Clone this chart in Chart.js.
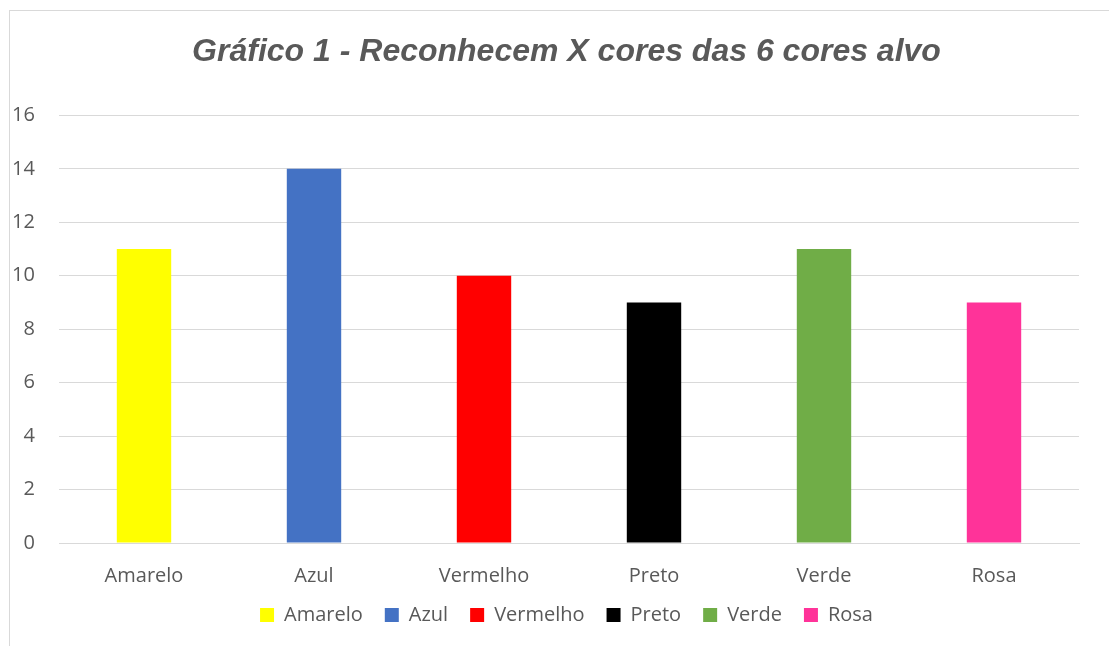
<!DOCTYPE html>
<html>
<head>
<meta charset="utf-8">
<script src="https://cdn.jsdelivr.net/npm/chart.js@4.4.1/dist/chart.umd.min.js"></script>
<style>
  html, body { margin: 0; padding: 0; background: #fff; overflow: hidden; }
  #frame { position: absolute; left: 9px; top: 10px; width: 1200px; height: 700px; border: 1px solid #d9d9d9; }
  #wrap { position: absolute; left: 0; top: 0; width: 1109px; height: 646px; }
</style>
</head>
<body>
<div id="frame"></div>
<div id="wrap"><canvas id="coresChart"></canvas></div>
<script>
// categories and values
const categorias = ['Amarelo', 'Azul', 'Vermelho', 'Preto', 'Verde', 'Rosa'];
const reconhecem = [11, 14, 10, 9, 11, 9];
const coresBarras = ['#ffff00', '#4472c4', '#ff0000', '#000000', '#70ad47', '#ff3399'];
const tituloGrafico = 'Gráfico 1 - Reconhecem X cores das 6 cores alvo';

document.addEventListener("DOMContentLoaded", function() {
    const ctx = document.getElementById('coresChart').getContext('2d');
    const textColor = '#595959';
    const gridColor = '#d9d9d9';
    const tickFont = { family: '"Open Sans", sans-serif', size: 20 };

    new Chart(ctx, {
        type: 'bar',
        data: {
            labels: categorias,
            datasets: [{
                label: 'Reconhecem',
                data: reconhecem,
                backgroundColor: coresBarras,
                borderWidth: 0,
                categoryPercentage: 1.0,
                barPercentage: 0.32
            }]
        },
        options: {
            responsive: true,
            maintainAspectRatio: false,
            animation: false,
            // left padding balances the right one so the title and legend centre like the original
            layout: { padding: { left: 54, right: 30, top: 0, bottom: 11 } },
            plugins: {
                tooltip: { enabled: false },
                title: {
                    display: true,
                    text: tituloGrafico,
                    color: textColor,
                    font: { family: '"Liberation Sans", Arial, sans-serif', size: 32, weight: 'bold', style: 'italic' },
                    padding: { top: 33, bottom: 44 }
                },
                legend: {
                    position: 'bottom',
                    labels: {
                        color: textColor,
                        font: tickFont,
                        boxWidth: 14,
                        boxHeight: 14,
                        padding: 22,
                        generateLabels: function(chart) {
                            return categorias.map(function(nome, i) {
                                return {
                                    text: nome,
                                    fillStyle: coresBarras[i],
                                    strokeStyle: coresBarras[i],
                                    lineWidth: 0,
                                    fontColor: textColor,
                                    hidden: false,
                                    index: i
                                };
                            });
                        }
                    }
                }
            },
            scales: {
                x: {
                    grid: { display: false },
                    border: { display: true, color: gridColor, width: 1 },
                    ticks: {
                        color: textColor,
                        font: tickFont,
                        padding: 13
                    },
                    afterFit: function(scale) {
                        scale.paddingLeft = 0;
                        scale.paddingRight = 0;
                        scale.height = 40;
                    }
                },
                y: {
                    min: 0,
                    max: 16,
                    border: { display: false },
                    grid: { color: gridColor, lineWidth: 1, drawTicks: false },
                    // mirrored so the labels are not clipped to the narrow axis box;
                    // negative padding puts them back to the left of the plot
                    ticks: {
                        stepSize: 2,
                        color: textColor,
                        font: tickFont,
                        mirror: true,
                        crossAlign: 'far',
                        padding: -47
                    },
                    afterFit: function(scale) {
                        scale.width = 5;
                    }
                }
            }
        }
    });
});
</script>
</body>
</html>
